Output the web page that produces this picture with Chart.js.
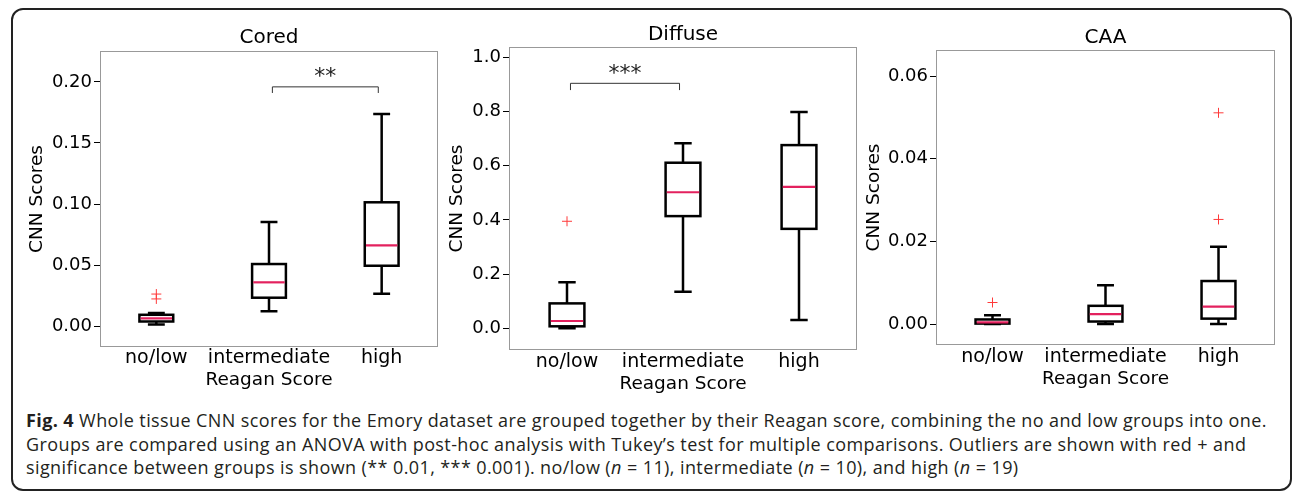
<!DOCTYPE html>
<html>
<head>
<meta charset="utf-8">
<script src="https://cdn.jsdelivr.net/npm/chart.js@4.4.1/dist/chart.umd.min.js"></script>
<style>
  html, body { margin: 0; padding: 0; background: #fff; }
  body { width: 1295px; height: 494px; position: relative; overflow: hidden; }
  #frame {
    position: absolute; left: 11px; top: 8px; width: 1281px; height: 483px;
    border: 2px solid #222; border-radius: 12px; box-sizing: border-box;
  }
  canvas { position: absolute; }
  #caption {
    position: absolute; left: 26px; top: 409px; white-space: nowrap;
    font-family: "Open Sans", sans-serif; font-size: 18px; letter-spacing: 0.4px;
    line-height: 23.5px; color: #231f20;
  }
</style>
</head>
<body>
<div id="frame"></div>
<canvas id="cored" width="430" height="392" style="left:14px;top:10px"></canvas>
<canvas id="diffuse" width="420" height="392" style="left:444px;top:10px"></canvas>
<canvas id="caa" width="424" height="392" style="left:860px;top:10px"></canvas>
<div id="caption"><b>Fig. 4</b> Whole tissue CNN scores for the Emory dataset are grouped together by their Reagan score, combining the no and low groups into one.<br>Groups are compared using an ANOVA with post-hoc analysis with Tukey’s test for multiple comparisons. Outliers are shown with red + and<br>significance between groups is shown (** 0.01, *** 0.001). no/low (<i>n</i> = 11), intermediate (<i>n</i> = 10), and high (<i>n</i> = 19)</div>
<script>
const categories = ['no/low', 'intermediate', 'high'];

// Cored
const coredLow = [0.0012, 0.012, 0.0265];
const coredQ1 = [0.0037, 0.0232, 0.0494];
const coredMedian = [0.0062, 0.0358, 0.0661];
const coredQ3 = [0.0092, 0.0508, 0.1014];
const coredHigh = [0.0107, 0.0852, 0.1738];
const coredOutliers = [[0, 0.0262], [0, 0.0222]];
const coredSig = { from: 1, to: 2, top: 0.196, tip: 0.191, label: '**', labelY: 0.199 };

// Diffuse
const diffuseLow = [0.0, 0.135, 0.031];
const diffuseQ1 = [0.0074, 0.414, 0.367];
const diffuseMedian = [0.027, 0.502, 0.522];
const diffuseQ3 = [0.092, 0.611, 0.676];
const diffuseHigh = [0.170, 0.683, 0.798];
const diffuseOutliers = [[0, 0.395]];
const diffuseSig = { from: 0, to: 1, top: 0.904, tip: 0.879, label: '***', labelY: 0.915 };

// CAA
const caaLow = [0.0, 0.0, 0.0];
const caaQ1 = [0.0001, 0.0006, 0.0013];
const caaMedian = [0.0004, 0.0024, 0.0042];
const caaQ3 = [0.0011, 0.0044, 0.0104];
const caaHigh = [0.0021, 0.0094, 0.0187];
const caaOutliers = [[0, 0.0052], [2, 0.0511], [2, 0.0253]];

const FONT = 'DejaVu Sans';
const MEDIAN_COLOR = '#e3215e';

// whiskers, caps, box outlines, medians and the significance bracket
const boxPlot = {
  id: 'boxPlot',
  afterDatasetsDraw(chart, args, opts) {
    const { ctx, chartArea: a, scales: { x, y } } = chart;
    const bars = chart.getDatasetMeta(0).data;
    ctx.save();
    ctx.strokeStyle = '#999';
    ctx.lineWidth = 1;
    ctx.strokeRect(a.left + 0.5, a.top + 0.5, a.width - 1, a.height - 1);

    bars.forEach((bar, i) => {
      const w = bar.width, cx = bar.x, cap = w / 4;
      const yQ1 = y.getPixelForValue(opts.q1[i]);
      const yQ3 = y.getPixelForValue(opts.q3[i]);
      const yHi = y.getPixelForValue(opts.high[i]);
      const yLo = y.getPixelForValue(opts.low[i]);
      ctx.strokeStyle = '#000';
      ctx.lineWidth = 2.5;
      ctx.beginPath();
      ctx.moveTo(cx, yQ3); ctx.lineTo(cx, yHi);
      ctx.moveTo(cx - cap, yHi); ctx.lineTo(cx + cap, yHi);
      ctx.moveTo(cx, yQ1); ctx.lineTo(cx, yLo);
      ctx.moveTo(cx - cap, yLo); ctx.lineTo(cx + cap, yLo);
      ctx.stroke();
      ctx.strokeRect(cx - w / 2, yQ3, w, yQ1 - yQ3);
      const yMed = y.getPixelForValue(opts.median[i]);
      ctx.strokeStyle = MEDIAN_COLOR;
      ctx.lineWidth = 2.2;
      ctx.beginPath();
      ctx.moveTo(cx - w / 2 + 1.2, yMed); ctx.lineTo(cx + w / 2 - 1.2, yMed);
      ctx.stroke();
    });

    const s = opts.sig;
    if (s) {
      const x1 = x.getPixelForValue(s.from + 0.03), x2 = x.getPixelForValue(s.to - 0.03);
      const yt = y.getPixelForValue(s.top), yb = y.getPixelForValue(s.tip);
      ctx.strokeStyle = '#333';
      ctx.lineWidth = 1;
      ctx.beginPath();
      ctx.moveTo(x1, yb); ctx.lineTo(x1, yt); ctx.lineTo(x2, yt); ctx.lineTo(x2, yb);
      ctx.stroke();
      ctx.fillStyle = '#222';
      ctx.font = '22px "' + FONT + '"';
      ctx.textAlign = 'center';
      ctx.textBaseline = 'alphabetic';
      ctx.fillText(s.label, (x1 + x2) / 2, y.getPixelForValue(s.labelY));
    }
    ctx.restore();
  }
};

function makePanel(id, p) {
  const tickFont = { family: FONT, size: 18 };
  const catFont = { family: FONT, size: 19 };
  const labelFont = { family: FONT, size: 18.5 };
  return new Chart(document.getElementById(id), {
    type: 'bar',
    data: {
      labels: categories,
      datasets: [
        {
          data: categories.map((c, i) => [p.q1[i], p.q3[i]]),
          backgroundColor: '#fff',
          borderWidth: 0,
          barPercentage: 0.3,
          categoryPercentage: 1
        },
        {
          type: 'line',
          data: p.outliers.map(([i, v]) => ({ x: categories[i], y: v })),
          showLine: false,
          pointStyle: 'cross',
          pointRadius: 5,
          pointBorderColor: '#ff3a3a',
          pointBorderWidth: 1
        }
      ]
    },
    options: {
      responsive: false,
      animation: false,
      events: [],
      layout: { padding: { left: 0, right: p.padRight, top: 0, bottom: 0 } },
      plugins: {
        legend: { display: false },
        tooltip: { enabled: false },
        title: {
          display: true, text: p.title, fullSize: false, color: '#000',
          font: { family: FONT, size: 20, weight: 'normal' },
          padding: { top: p.titleTop, bottom: p.titleBottom }
        },
        boxPlot: p
      },
      scales: {
        x: {
          offset: true,
          grid: { display: false, drawTicks: false },
          border: { display: false },
          ticks: { color: '#000', font: catFont, padding: p.xPad, maxRotation: 0, minRotation: 0, autoSkip: false },
          title: { display: true, text: 'Reagan Score', color: '#000', font: labelFont, padding: { top: 0, bottom: p.xTitleBottom } },
          afterFit(s) { s.height = p.xHeight; }
        },
        y: {
          min: p.min, max: p.max,
          grid: { drawOnChartArea: false, drawTicks: true, tickLength: 6, tickColor: '#000' },
          border: { display: false },
          ticks: {
            stepSize: p.step, includeBounds: false, padding: 2, color: '#000', font: tickFont,
            callback: v => v.toFixed(p.digits)
          },
          title: { display: true, text: 'CNN Scores', color: '#000', font: labelFont, padding: { top: p.yTitleTop, bottom: 0 } },
          afterFit(s) { s.width = p.yWidth; }
        }
      }
    },
    plugins: [boxPlot]
  });
}

makePanel('cored', {
  title: 'Cored', low: coredLow, q1: coredQ1, median: coredMedian, q3: coredQ3, high: coredHigh,
  outliers: coredOutliers, sig: coredSig, min: -0.0172, max: 0.2254, step: 0.05, digits: 2,
  yWidth: 86, padRight: 5, titleTop: 16, titleBottom: 1, xHeight: 55, xPad: 0, xTitleBottom: 10.9, yTitleTop: 11.9
});
makePanel('diffuse', {
  title: 'Diffuse', low: diffuseLow, q1: diffuseQ1, median: diffuseMedian, q3: diffuseQ3, high: diffuseHigh,
  outliers: diffuseOutliers, sig: diffuseSig, min: -0.08, max: 1.038, step: 0.2, digits: 1,
  yWidth: 65, padRight: 7, titleTop: 12.5, titleBottom: 0.5, xHeight: 52, xPad: 0.3, xTitleBottom: 6.4, yTitleTop: 1.9
});
makePanel('caa', {
  title: 'CAA', low: caaLow, q1: caaQ1, median: caaMedian, q3: caaQ3, high: caaHigh,
  outliers: caaOutliers, sig: null, min: -0.00508, max: 0.0663, step: 0.02, digits: 2,
  yWidth: 76, padRight: 9, titleTop: 15.5, titleBottom: 0.5, xHeight: 57, xPad: 1.1, xTitleBottom: 11.9, yTitleTop: 2.9
});
</script>
</body>
</html>
